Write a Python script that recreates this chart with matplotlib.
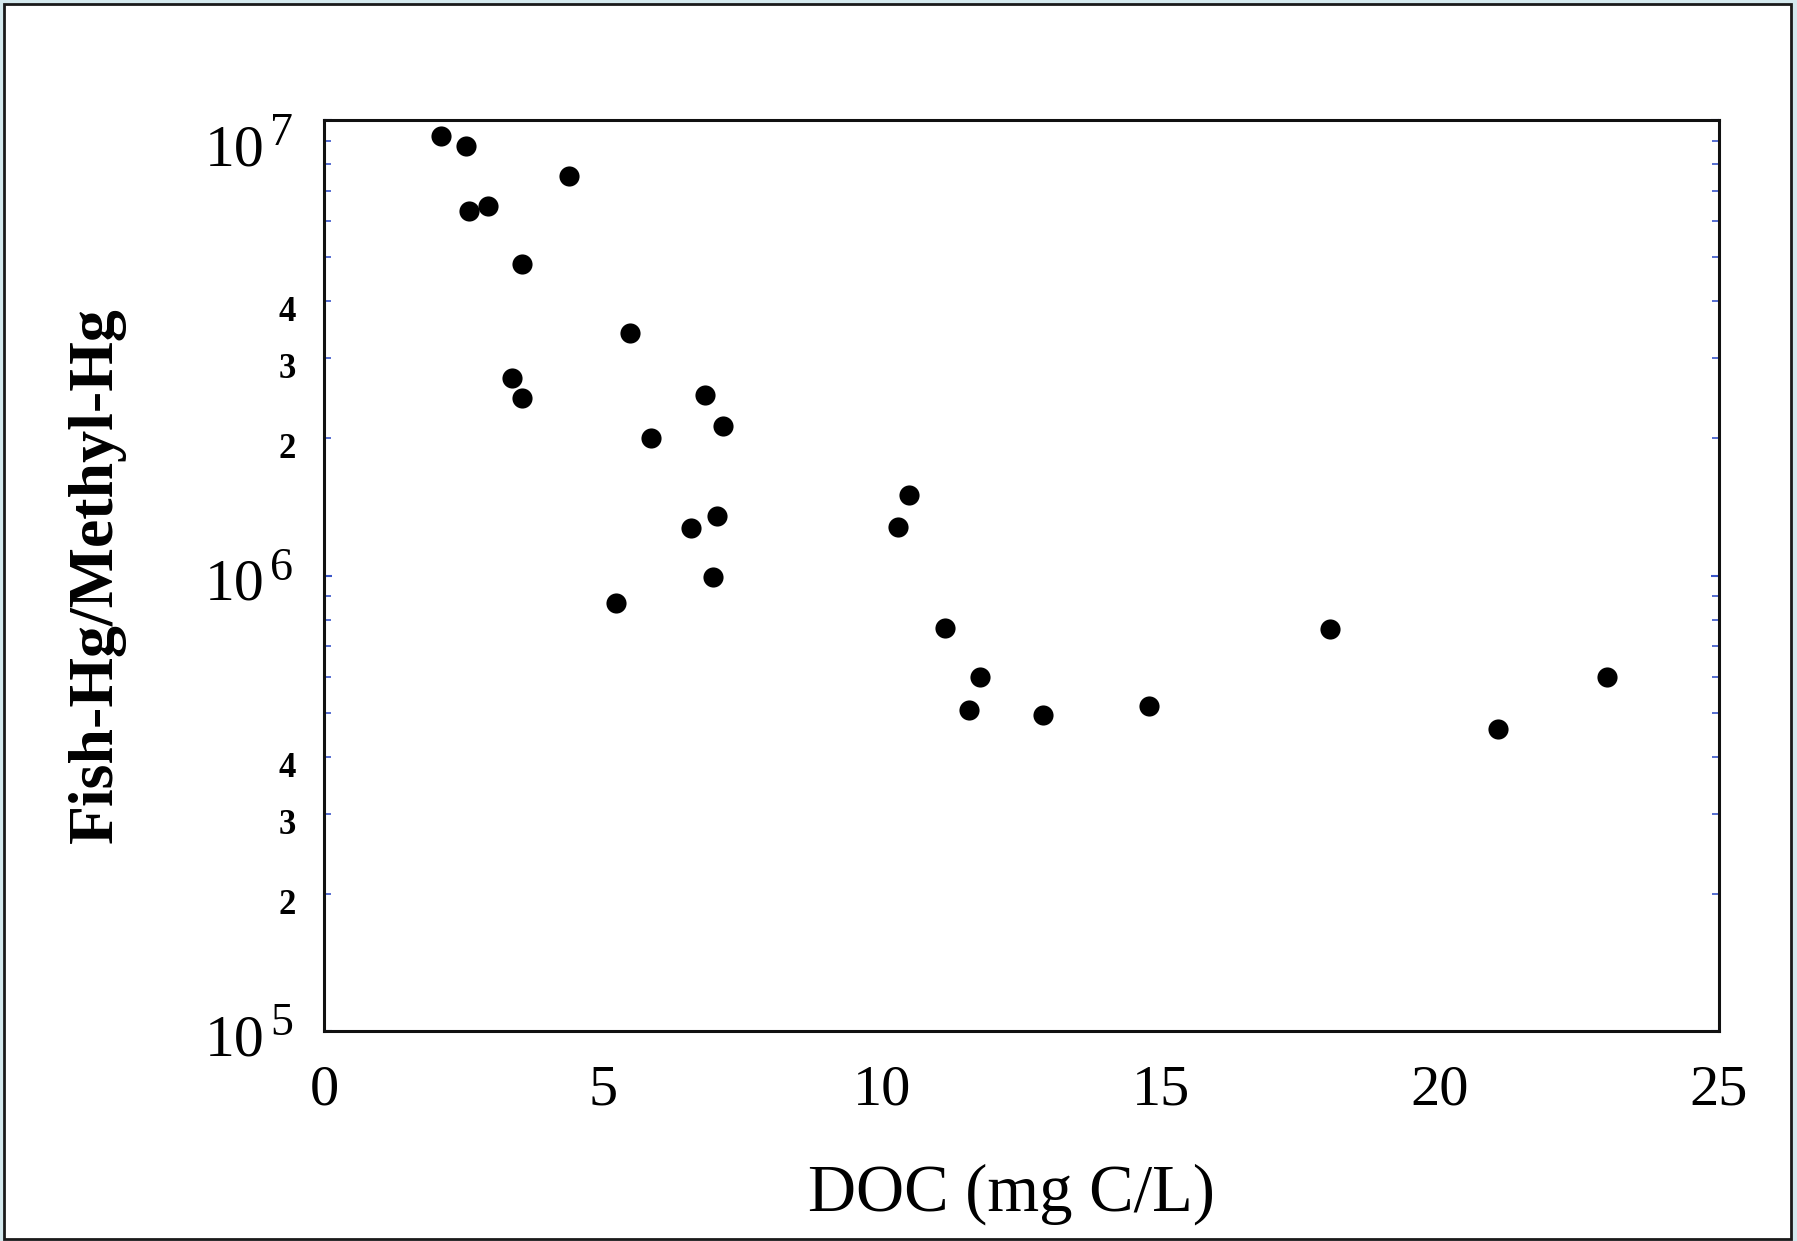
import numpy as np
import matplotlib.pyplot as plt
from matplotlib.patches import Rectangle
from matplotlib.ticker import FixedLocator, NullFormatter
from matplotlib.transforms import blended_transform_factory, offset_copy

plt.rcParams['font.family'] = ['Liberation Serif', 'DejaVu Serif']

# DOC (mg C/L) and Fish-Hg / Methyl-Hg
doc = [2.10, 2.54, 2.60, 2.94, 4.39, 3.54,
       5.49, 3.37, 3.55, 6.82, 7.15, 5.86, 6.57, 7.05, 6.97, 5.24,
       10.48, 10.29, 11.13, 11.75, 11.56, 12.88, 14.79,
       18.02, 21.04, 22.99]
ratio = [9.24e6, 8.78e6, 6.32e6, 6.46e6, 7.54e6, 4.84e6,
         3.40e6, 2.71e6, 2.45e6, 2.49e6, 2.13e6, 2.00e6, 1.27e6, 1.35e6, 9.91e5, 8.69e5,
         1.50e6, 1.28e6, 7.67e5, 5.98e5, 5.06e5, 4.94e5, 5.16e5,
         7.64e5, 4.60e5, 5.98e5]

x_ticks = [0, 5, 10, 15, 20, 25]
major_y = [1e5, 1e6, 1e7]
major_exp = ['5', '6', '7']
minor_y = [m * d for d in (1e5, 1e6) for m in range(2, 10)]
minor_labelled = [m * d for d in (1e5, 1e6) for m in (2, 3, 4)]
minor_text = [str(m) for d in (1e5, 1e6) for m in (2, 3, 4)]

W, H = 1797, 1241
fig = plt.figure(figsize=(W / 100, H / 100), dpi=100, facecolor='#d4e9ee')
fig.add_artist(Rectangle((4 / W, 2 / H), 1787 / W, 1235 / H, transform=fig.transFigure,
                         facecolor='white', edgecolor='#1a1a1a', lw=2, zorder=-10))

ax = fig.add_axes([324 / W, 1 - 1031 / H, (1719 - 324) / W, (1031 - 120) / H])
ax.set_facecolor('white')
ax.plot(doc, ratio, 'o', color='black', markersize=14.5, markeredgewidth=0)

ax.set_yscale('log')
ax.set_xlim(0, 25)
ax.set_ylim(1e5, 1e7)

ax.xaxis.set_major_locator(FixedLocator(x_ticks))
ax.set_xticklabels([str(t) for t in x_ticks])
ax.yaxis.set_major_locator(FixedLocator(major_y))
ax.yaxis.set_major_formatter(NullFormatter())
ax.yaxis.set_minor_locator(FixedLocator(minor_y))
ax.yaxis.set_minor_formatter(NullFormatter())
ax.xaxis.set_minor_formatter(NullFormatter())

ax.tick_params(axis='x', which='both', length=0, pad=24, labelsize=42)
ax.tick_params(axis='y', which='major', direction='in', length=6, width=1.5,
               color='#3a55c8', right=True)
ax.tick_params(axis='y', which='minor', direction='in', length=5, width=1.2,
               color='#3a55c8', right=True)

# tick labels placed by hand so they sit like the typeset scan
trans = blended_transform_factory(ax.transAxes, ax.transData)
for v, e in zip(major_y, major_exp):
    dy = -45 if v == major_y[-1] else -24
    ax.text(0, v, '10', transform=offset_copy(trans, fig=fig, x=-60, y=dy, units='dots'),
            ha='right', va='baseline', fontsize=43, clip_on=False)
    ax.text(0, v, e, transform=offset_copy(trans, fig=fig, x=-54, y=dy + 20, units='dots'),
            ha='left', va='baseline', fontsize=33, clip_on=False)
for v, t in zip(minor_labelled, minor_text):
    ax.text(0, v, t, transform=offset_copy(trans, fig=fig, x=-28, y=-20, units='dots'),
            ha='right', va='baseline', fontsize=25, fontweight='bold', clip_on=False)

for s in ax.spines.values():
    s.set_linewidth(2.2)
    s.set_color('#111111')

ax.set_xlabel('DOC (mg C/L)', fontsize=48)
ax.xaxis.set_label_coords(0.4925, -0.145)
ax.set_ylabel('Fish-Hg/Methyl-Hg', fontsize=46, fontweight='bold')
ax.yaxis.set_label_coords(-0.142, 0.5)

fig.savefig('out.png', dpi=100, facecolor=fig.get_facecolor())
